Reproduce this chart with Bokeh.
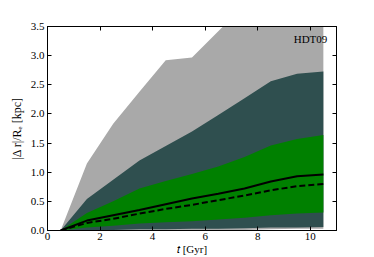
from bokeh.plotting import figure
from bokeh.models import LinearAxis, FixedTicker, Range1d, Label, ColumnDataSource, CustomLabelingPolicy
from bokeh.embed import file_html
from bokeh.resources import INLINE

# ---- data ----
t = [0.5, 1.5, 2.5, 3.5, 4.5, 5.5, 6.5, 7.5, 8.5, 9.5, 10.5]
gray_lo = [0.0, 0.0, 0.0, 0.0, 0.0, 0.0, 0.0, 0.01, 0.02, 0.03, 0.03]
gray_hi = [0.0, 1.15, 1.83, 2.38, 2.92, 2.97, 3.42, 3.86, 4.10, 4.30, 4.50]
dark_lo = [0.0, 0.01, 0.01, 0.02, 0.02, 0.03, 0.03, 0.04, 0.05, 0.05, 0.06]
dark_hi = [0.0, 0.54, 0.87, 1.20, 1.45, 1.70, 1.98, 2.27, 2.56, 2.69, 2.73]
green_lo = [0.0, 0.05, 0.08, 0.12, 0.14, 0.16, 0.19, 0.22, 0.26, 0.29, 0.31]
green_hi = [0.0, 0.30, 0.50, 0.72, 0.85, 0.97, 1.10, 1.26, 1.46, 1.57, 1.64]
median = [0.0, 0.17, 0.26, 0.35, 0.45, 0.55, 0.63, 0.72, 0.84, 0.93, 0.96]
mean = [0.0, 0.13, 0.20, 0.29, 0.37, 0.44, 0.52, 0.60, 0.69, 0.76, 0.80]

x_ticks = [0, 2, 4, 6, 8, 10]
y_ticks = [0.0, 0.5, 1.0, 1.5, 2.0, 2.5, 3.0, 3.5]
y_tick_labels = ["0.0", "0.5", "1.0", "1.5", "2.0", "2.5", "3.0", "3.5"]

src = ColumnDataSource(dict(t=t, gray_lo=gray_lo, gray_hi=gray_hi, dark_lo=dark_lo,
                            dark_hi=dark_hi, green_lo=green_lo, green_hi=green_hi,
                            median=median, mean=mean))

FONT = "Liberation Serif"

p = figure(width=374, height=257, output_backend="svg", toolbar_location=None,
           x_range=Range1d(0, 11), y_range=Range1d(0, 3.5),
           min_border_left=47, min_border_right=38, min_border_top=26, min_border_bottom=26,
           x_axis_location=None, y_axis_location=None)
p.grid.visible = False
p.outline_line_color = "black"
p.outline_line_width = 1
p.background_fill_color = "white"
p.border_fill_color = "white"

p.varea(x="t", y1="gray_lo", y2="gray_hi", source=src, fill_color="#a9a9a9")
p.varea(x="t", y1="dark_lo", y2="dark_hi", source=src, fill_color="#2f4f4f")
p.varea(x="t", y1="green_lo", y2="green_hi", source=src, fill_color="#008000")
p.line(x="t", y="median", source=src, line_color="black", line_width=2)
p.line(x="t", y="mean", source=src, line_color="black", line_width=2, line_dash="6 3")

hide_all = """
const all = [...indices];
for (const i of all) indices.unset(i);
return indices;
"""


def style(ax, labels=True):
    ax.axis_line_color = "black"
    ax.major_tick_in = 4
    ax.major_tick_out = 0
    ax.minor_tick_in = 0
    ax.minor_tick_out = 0
    ax.major_tick_line_color = "black"
    ax.major_label_text_font = FONT
    ax.major_label_text_font_size = "11px"
    ax.major_label_text_color = "black"
    ax.axis_label_text_color = "black"
    ax.major_label_standoff = 2
    if not labels:
        ax.major_label_policy = CustomLabelingPolicy(code=hide_all)
        ax.major_label_standoff = 0


xb = LinearAxis(ticker=FixedTicker(ticks=x_ticks))
style(xb)
xb.axis_label = "𝑡 [Gyr]"
xb.axis_label_text_font = FONT
xb.axis_label_text_font_size = "11px"
xb.axis_label_text_font_style = "normal"
xb.axis_label_standoff = 0
p.add_layout(xb, "below")
xt = LinearAxis(ticker=FixedTicker(ticks=x_ticks))
style(xt, labels=False)
p.add_layout(xt, "above")

yl = LinearAxis(ticker=FixedTicker(ticks=y_ticks),
                major_label_overrides={v: s for v, s in zip(y_ticks, y_tick_labels)})
style(yl)
yl.major_label_standoff = 3
yl.axis_label = "|Δ r|/Rₑ [kpc]"
yl.axis_label_text_font = FONT
yl.axis_label_text_font_size = "12px"
yl.axis_label_text_font_style = "normal"
yl.axis_label_standoff = 4
p.add_layout(yl, "left")
yr = LinearAxis(ticker=FixedTicker(ticks=y_ticks))
style(yr, labels=False)
p.add_layout(yr, "right")

p.add_layout(Label(x=10.65, y=3.28, text="HDT09", text_font=FONT, text_font_size="11px",
                   text_align="right", text_baseline="alphabetic", text_color="black"))

open("out.html", "w").write(file_html(p, INLINE))
